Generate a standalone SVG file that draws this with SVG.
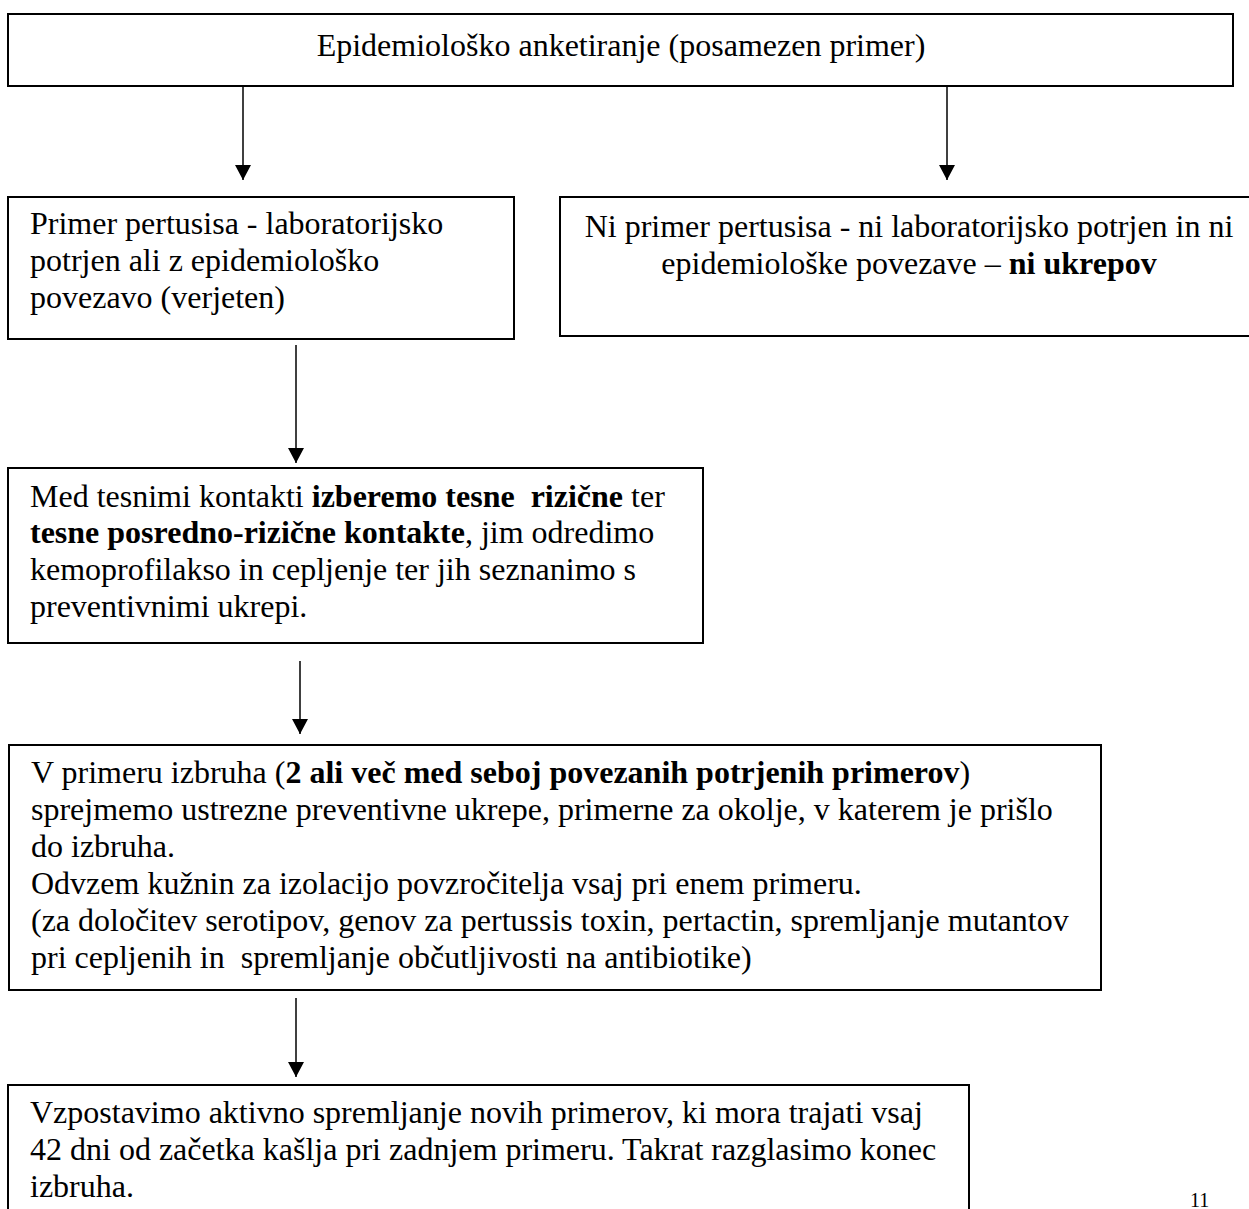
<svg xmlns="http://www.w3.org/2000/svg" width="1249" height="1209" viewBox="0 0 1249 1209">
  <style>
    .box { fill: #ffffff; stroke: #000000; stroke-width: 2; }
    .t { font-family: "Liberation Serif", "Times New Roman", serif; font-size: 32px; fill: #000000; white-space: pre; }
    .b { font-weight: bold; }
    .c { text-anchor: middle; }
    .conn { stroke: #000000; stroke-width: 1.5; fill: none; marker-end: url(#arr); }
  </style>
  <defs>
    <marker id="arr" markerWidth="16" markerHeight="16" refX="15" refY="8" orient="auto" markerUnits="userSpaceOnUse">
      <path d="M0,0 L15,8 L0,16 z" fill="#000000"/>
    </marker>
  </defs>
  <rect width="1249" height="1209" fill="#ffffff"/>

  <g id="connectors">
    <line class="conn" x1="243" y1="86" x2="243" y2="180"/>
    <line class="conn" x1="947" y1="83" x2="947" y2="180"/>
    <line class="conn" x1="296" y1="345" x2="296" y2="463"/>
    <line class="conn" x1="300" y1="661" x2="300" y2="734"/>
    <line class="conn" x1="296" y1="998" x2="296" y2="1077"/>
  </g>

  <g id="node-anketiranje">
    <rect class="box" x="8" y="14" width="1225" height="72"/>
    <text class="t c" x="621" y="56">Epidemiološko anketiranje (posamezen primer)</text>
  </g>

  <g id="node-primer">
    <rect class="box" x="8" y="197" width="506" height="142"/>
    <text class="t" x="30" y="234">Primer pertusisa - laboratorijsko</text>
    <text class="t" x="30" y="271">potrjen ali z epidemiološko</text>
    <text class="t" x="30" y="308">povezavo (verjeten)</text>
  </g>

  <g id="node-ni-primer">
    <rect class="box" x="560" y="197" width="700" height="139"/>
    <text class="t c" x="909" y="237">Ni primer pertusisa - ni laboratorijsko potrjen in ni</text>
    <text class="t c" x="909" y="274">epidemiološke povezave – <tspan class="b">ni ukrepov</tspan></text>
  </g>

  <g id="node-kontakti">
    <rect class="box" x="8" y="468" width="695" height="175"/>
    <text class="t" x="30" y="507">Med tesnimi kontakti <tspan class="b">izberemo tesne  rizične</tspan> ter</text>
    <text class="t" x="30" y="543"><tspan class="b">tesne posredno-rizične kontakte</tspan>, jim odredimo</text>
    <text class="t" x="30" y="580">kemoprofilakso in cepljenje ter jih seznanimo s</text>
    <text class="t" x="30" y="617">preventivnimi ukrepi.</text>
  </g>

  <g id="node-izbruh">
    <rect class="box" x="9" y="745" width="1092" height="245"/>
    <text class="t" x="31" y="783">V primeru izbruha (<tspan class="b">2 ali več med seboj povezanih potrjenih primerov</tspan>)</text>
    <text class="t" x="31" y="820">sprejmemo ustrezne preventivne ukrepe, primerne za okolje, v katerem je prišlo</text>
    <text class="t" x="31" y="857">do izbruha.</text>
    <text class="t" x="31" y="894">Odvzem kužnin za izolacijo povzročitelja vsaj pri enem primeru.</text>
    <text class="t" x="31" y="931">(za določitev serotipov, genov za pertussis toxin, pertactin, spremljanje mutantov</text>
    <text class="t" x="31" y="968">pri cepljenih in  spremljanje občutljivosti na antibiotike)</text>
  </g>

  <g id="node-spremljanje">
    <rect class="box" x="8" y="1085" width="961" height="140"/>
    <text class="t" x="30" y="1123">Vzpostavimo aktivno spremljanje novih primerov, ki mora trajati vsaj</text>
    <text class="t" x="30" y="1160">42 dni od začetka kašlja pri zadnjem primeru. Takrat razglasimo konec</text>
    <text class="t" x="30" y="1197">izbruha.</text>
  </g>

  <text class="t" x="1190" y="1207" style="font-size:20px">11</text>
</svg>
